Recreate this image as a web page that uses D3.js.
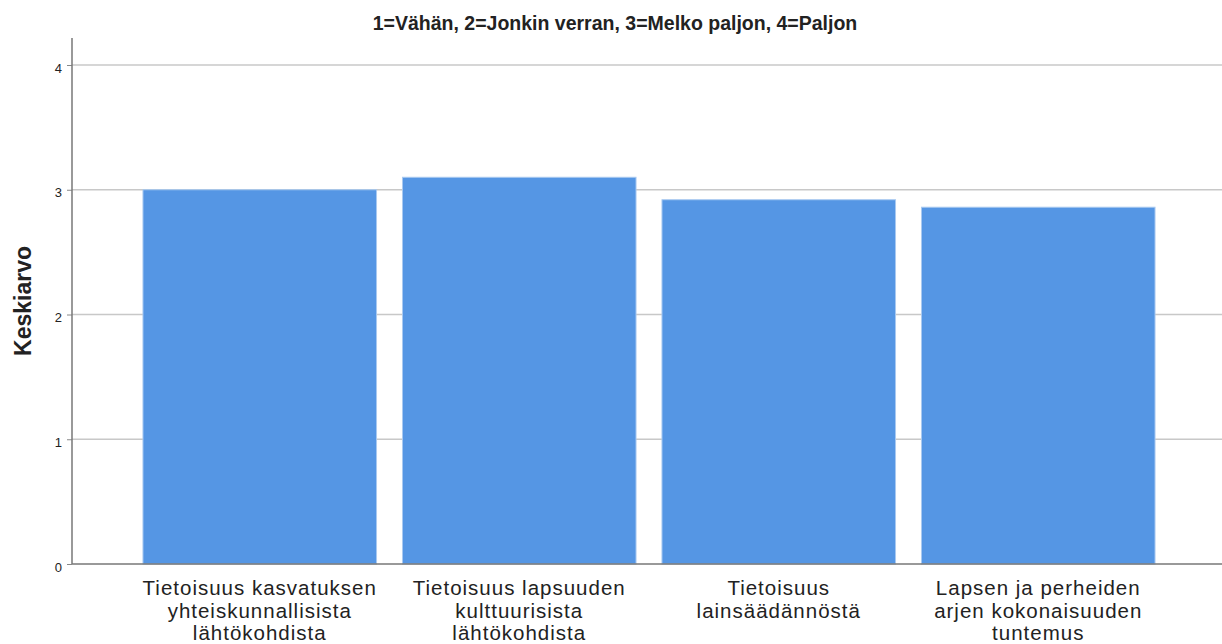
<!DOCTYPE html>
<html><head><meta charset="utf-8">
<script src="https://cdn.jsdelivr.net/npm/d3@7"></script>
<style>body{margin:0;background:#fff}svg{display:block}</style>
</head><body>
<script>
const categories = [
  ["Tietoisuus kasvatuksen","yhteiskunnallisista","lähtökohdista"],
  ["Tietoisuus lapsuuden","kulttuurisista","lähtökohdista"],
  ["Tietoisuus","lainsäädännöstä"],
  ["Lapsen ja perheiden","arjen kokonaisuuden","tuntemus"]
];
const values = [3.00, 3.10, 2.92, 2.86];
const yTicks = [0, 1, 2, 3, 4];
const title = "1=Vähän, 2=Jonkin verran, 3=Melko paljon, 4=Paljon";
const yLabel = "Keskiarvo";

const W = 1222, H = 644;
const svg = d3.select("body").append("svg").attr("width", W).attr("height", H);
const font = "Liberation Sans, Arial, sans-serif";

const y = d3.scaleLinear().domain([0, 4]).range([564, 65]);
const x = d3.scaleBand().domain(d3.range(categories.length)).range([130, 1168]).paddingInner(0.1).paddingOuter(0.05);

// gridlines
svg.append("g").selectAll("line").data(yTicks.filter(d => d > 0)).join("line")
  .attr("x1", 72).attr("x2", W).attr("y1", d => y(d)).attr("y2", d => y(d))
  .attr("stroke", "#c8c8c8").attr("stroke-width", 1.5);

// bars
svg.append("g").selectAll("rect").data(values).join("rect")
  .attr("x", (d, i) => x(i)).attr("width", x.bandwidth())
  .attr("y", d => y(d)).attr("height", d => y(0) - y(d))
  .attr("fill", "#5596e4").attr("stroke", "#a9c9f0").attr("stroke-width", 1);

// y axis
const yAxis = d3.axisLeft(y).tickValues(yTicks).tickFormat(d3.format("d")).tickSize(5).tickPadding(5);
const ga = svg.append("g").attr("transform", "translate(72,0)").call(yAxis);
ga.select(".domain").remove();
ga.selectAll(".tick line").attr("stroke", "#888");
ga.selectAll(".tick text").attr("font-family", font).attr("font-size", 13).attr("fill", "#222").attr("dy", "0.55em");
svg.append("line").attr("x1", 72).attr("x2", 72).attr("y1", 38).attr("y2", 564).attr("stroke", "#777").attr("stroke-width", 1.5);
svg.append("line").attr("x1", 72).attr("x2", W).attr("y1", 564).attr("y2", 564).attr("stroke", "#777").attr("stroke-width", 1.5);

// x labels
const xl = svg.append("g").selectAll("text").data(categories).join("text")
  .attr("x", (d, i) => x(i) + x.bandwidth() / 2).attr("y", 595)
  .attr("text-anchor", "middle").attr("font-family", font).attr("font-size", 20.5)
  .attr("letter-spacing", 1).attr("fill", "#222");
xl.selectAll("tspan").data(d => d).join("tspan")
  .attr("x", function() { return this.parentNode.getAttribute("x"); })
  .attr("dy", (d, i) => i === 0 ? 0 : 22.5).text(d => d);

// title
svg.append("text").attr("x", 615).attr("y", 30).attr("text-anchor", "middle")
  .attr("font-family", font).attr("font-weight", "bold").attr("font-size", 19.5).attr("fill", "#222").text(title);

// y label
svg.append("text").attr("transform", "translate(31,301) rotate(-90)").attr("text-anchor", "middle")
  .attr("font-family", font).attr("font-weight", "bold").attr("font-size", 23).attr("fill", "#222").text(yLabel);
</script>
</body></html>
